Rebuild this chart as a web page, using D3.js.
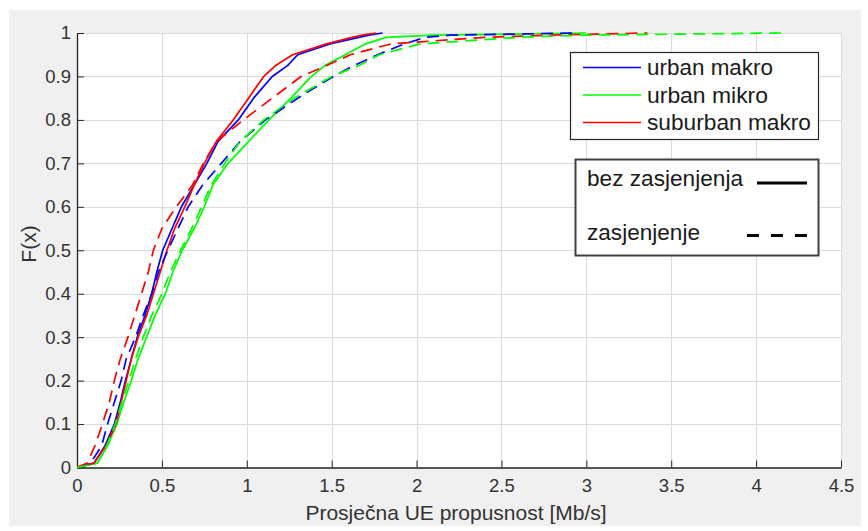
<!DOCTYPE html>
<html><head><meta charset="utf-8">
<script src="https://cdn.jsdelivr.net/npm/d3@7/dist/d3.min.js"></script>
<style>
body{margin:0;background:#fff;}
text{font-family:"Liberation Sans",Arial,Helvetica,sans-serif;}
</style>
</head><body>
<svg id="chart" width="868" height="531"></svg>
<script>
// cumulative probability levels (F(x)) at which x values were read
const probs = [0, 0.01, 0.05, 0.1, 0.15, 0.2, 0.25, 0.3, 0.35, 0.4, 0.45, 0.5, 0.55, 0.6, 0.65, 0.7, 0.75, 0.8, 0.85, 0.9, 0.925, 0.95, 0.975, 0.99, 0.995, 1];

// throughput [Mb/s] at each probability level
const urbanMakroBez    = [0, 0.10, 0.165, 0.22, 0.255, 0.285, 0.32, 0.355, 0.40, 0.44, 0.47, 0.505, 0.56, 0.615, 0.69, 0.765, 0.83, 0.95, 1.04, 1.15, 1.24, 1.30, 1.49, 1.66, 1.72, 1.80];
const urbanMikroBez    = [0, 0.12, 0.18, 0.235, 0.275, 0.32, 0.36, 0.41, 0.46, 0.52, 0.565, 0.62, 0.69, 0.75, 0.80, 0.89, 1.01, 1.13, 1.26, 1.38, 1.46, 1.58, 1.70, 1.82, 2.10, 3.00];
const suburbanMakroBez = [0, 0.10, 0.17, 0.23, 0.26, 0.29, 0.32, 0.36, 0.41, 0.45, 0.49, 0.53, 0.575, 0.635, 0.69, 0.75, 0.82, 0.92, 1.01, 1.10, 1.17, 1.27, 1.47, 1.62, 1.68, 1.76];
const urbanMakroZas    = [0, 0.08, 0.145, 0.18, 0.22, 0.26, 0.29, 0.345, 0.39, 0.44, 0.48, 0.535, 0.595, 0.655, 0.74, 0.85, 0.96, 1.11, 1.30, 1.51, 1.63, 1.77, 1.93, 2.05, 2.20, 2.95];
const urbanMikroZas    = [0, 0.12, 0.175, 0.225, 0.265, 0.305, 0.345, 0.39, 0.44, 0.50, 0.55, 0.61, 0.675, 0.735, 0.79, 0.87, 0.96, 1.10, 1.28, 1.50, 1.66, 1.78, 2.02, 2.60, 2.98, 4.15];
const suburbanMakroZas = [0, 0.06, 0.106, 0.15, 0.19, 0.22, 0.255, 0.30, 0.34, 0.38, 0.42, 0.45, 0.50, 0.585, 0.68, 0.745, 0.82, 0.98, 1.15, 1.32, 1.47, 1.61, 1.85, 2.40, 2.78, 3.36];

const xTicks = [0, 0.5, 1, 1.5, 2, 2.5, 3, 3.5, 4, 4.5];
const xTickLabels = ["0", "0.5", "1", "1.5", "2", "2.5", "3", "3.5", "4", "4.5"];
const yTicks = [0, 0.1, 0.2, 0.3, 0.4, 0.5, 0.6, 0.7, 0.8, 0.9, 1];
const yTickLabels = ["0", "0.1", "0.2", "0.3", "0.4", "0.5", "0.6", "0.7", "0.8", "0.9", "1"];

const seriesNames = ["urban makro", "urban mikro", "suburban makro"];
const seriesColors = ["#0000ff", "#00ff00", "#ff0000"];
const styleNames = ["bez zasjenjenja", "zasjenjenje"];
const xLabel = "Prosječna UE propusnost [Mb/s]";
const yLabel = "F(x)";

const series = [
  {x: urbanMakroBez, c: 0, dashed: false},
  {x: urbanMikroBez, c: 1, dashed: false},
  {x: suburbanMakroBez, c: 2, dashed: false},
  {x: urbanMakroZas, c: 0, dashed: true},
  {x: suburbanMakroZas, c: 2, dashed: true},
  {x: urbanMikroZas, c: 1, dashed: true}
];

const svg = d3.select("#chart");
const L = 77, R = 841, T = 33, B = 467.5;
const x = d3.scaleLinear().domain([0, 4.5]).range([L, R]);
const y = d3.scaleLinear().domain([0, 1]).range([B, T]);

// figure background
svg.append("rect").attr("x", 9).attr("y", 10).attr("width", 852).attr("height", 516).attr("fill", "#f0f0f0");
// axes background
svg.append("rect").attr("x", L).attr("y", T).attr("width", R - L).attr("height", B - T).attr("fill", "#fff");

// grid
const grid = svg.append("g").attr("stroke", "#dcdcdc").attr("stroke-width", 1);
grid.selectAll("line.v").data(xTicks).join("line")
  .attr("x1", d => Math.round(x(d)) + 0.5).attr("x2", d => Math.round(x(d)) + 0.5)
  .attr("y1", T).attr("y2", B);
grid.selectAll("line.h").data(yTicks).join("line")
  .attr("y1", d => Math.round(y(d)) + 0.5).attr("y2", d => Math.round(y(d)) + 0.5)
  .attr("x1", L).attr("x2", R);

// axes
const xAxis = svg.append("g").attr("transform", `translate(0,${B})`)
  .call(d3.axisBottom(x).tickValues(xTicks).tickFormat((d, i) => xTickLabels[i]).tickSizeInner(-7).tickSizeOuter(0).tickPadding(11));
const yAxis = svg.append("g").attr("transform", `translate(${L},0)`)
  .call(d3.axisLeft(y).tickValues(yTicks).tickFormat((d, i) => yTickLabels[i]).tickSizeInner(-7).tickSizeOuter(0).tickPadding(6));
[xAxis, yAxis].forEach(a => {
  a.select(".domain").attr("stroke", "#262626").attr("stroke-width", 1.3);
  a.selectAll(".tick line").attr("stroke", "#262626");
  a.selectAll(".tick text").attr("fill", "#333").style("font-size", "18.5px")
   .style("font-family", '"Liberation Sans",Arial,sans-serif');
});

// axis labels
svg.append("text").attr("x", 456).attr("y", 520).attr("text-anchor", "middle")
  .attr("fill", "#333").style("font-size", "21px").text(xLabel);
svg.append("text").attr("transform", "translate(36,244) rotate(-90)").attr("text-anchor", "middle")
  .attr("fill", "#333").style("font-size", "21px").text(yLabel);

// curves
const clip = svg.append("clipPath").attr("id", "clip").append("rect")
  .attr("x", L).attr("y", T - 2).attr("width", R - L).attr("height", B - T + 4);
const line = d3.line().x(d => x(d[0])).y(d => y(d[1]));
const curves = svg.append("g").attr("clip-path", "url(#clip)");
series.forEach(s => {
  const pts = s.x.map((v, i) => [v, probs[i]]);
  curves.append("path").datum(pts).attr("d", line)
    .attr("fill", "none").attr("stroke", seriesColors[s.c]).attr("stroke-width", 1.7)
    .attr("stroke-linejoin", "round")
    .attr("stroke-dasharray", s.dashed ? "12,7" : null);
});

// legend 1 (colors)
const lg1 = svg.append("g");
lg1.append("rect").attr("x", 570.5).attr("y", 52.5).attr("width", 248).attr("height", 87)
  .attr("fill", "#fff").attr("stroke", "#262626").attr("stroke-width", 1.2);
const lgY = [67.5, 95, 122.5];
const lgW = [126, 121, 164];
seriesNames.forEach((n, i) => {
  lg1.append("line").attr("x1", 583).attr("x2", 641).attr("y1", lgY[i]).attr("y2", lgY[i])
    .attr("stroke", seriesColors[i]).attr("stroke-width", 1.7);
  lg1.append("text").attr("x", 647).attr("y", lgY[i]).attr("dy", "0.35em")
    .attr("fill", "#1a1a1a").style("font-size", "22.5px")
    .attr("textLength", lgW[i]).attr("lengthAdjust", "spacingAndGlyphs").text(n);
});

// legend 2 (line styles)
const lg2 = svg.append("g");
lg2.append("rect").attr("x", 575.5).attr("y", 159.5).attr("width", 243).attr("height", 96)
  .attr("fill", "#fff").attr("stroke", "#404040").attr("stroke-width", 2);
const l2Y = [178, 232];
const l2W = [156, 113];
styleNames.forEach((n, i) => {
  lg2.append("text").attr("x", 587).attr("y", l2Y[i]).attr("dy", "0.35em")
    .attr("fill", "#1a1a1a").style("font-size", "22.5px")
    .attr("textLength", l2W[i]).attr("lengthAdjust", "spacingAndGlyphs").text(n);
});
lg2.append("line").attr("x1", 757).attr("x2", 807).attr("y1", 183).attr("y2", 183)
  .attr("stroke", "#000").attr("stroke-width", 3);
lg2.append("line").attr("x1", 747).attr("x2", 807).attr("y1", 235.5).attr("y2", 235.5)
  .attr("stroke", "#000").attr("stroke-width", 3).attr("stroke-dasharray", "12,12");
</script>
</body></html>
